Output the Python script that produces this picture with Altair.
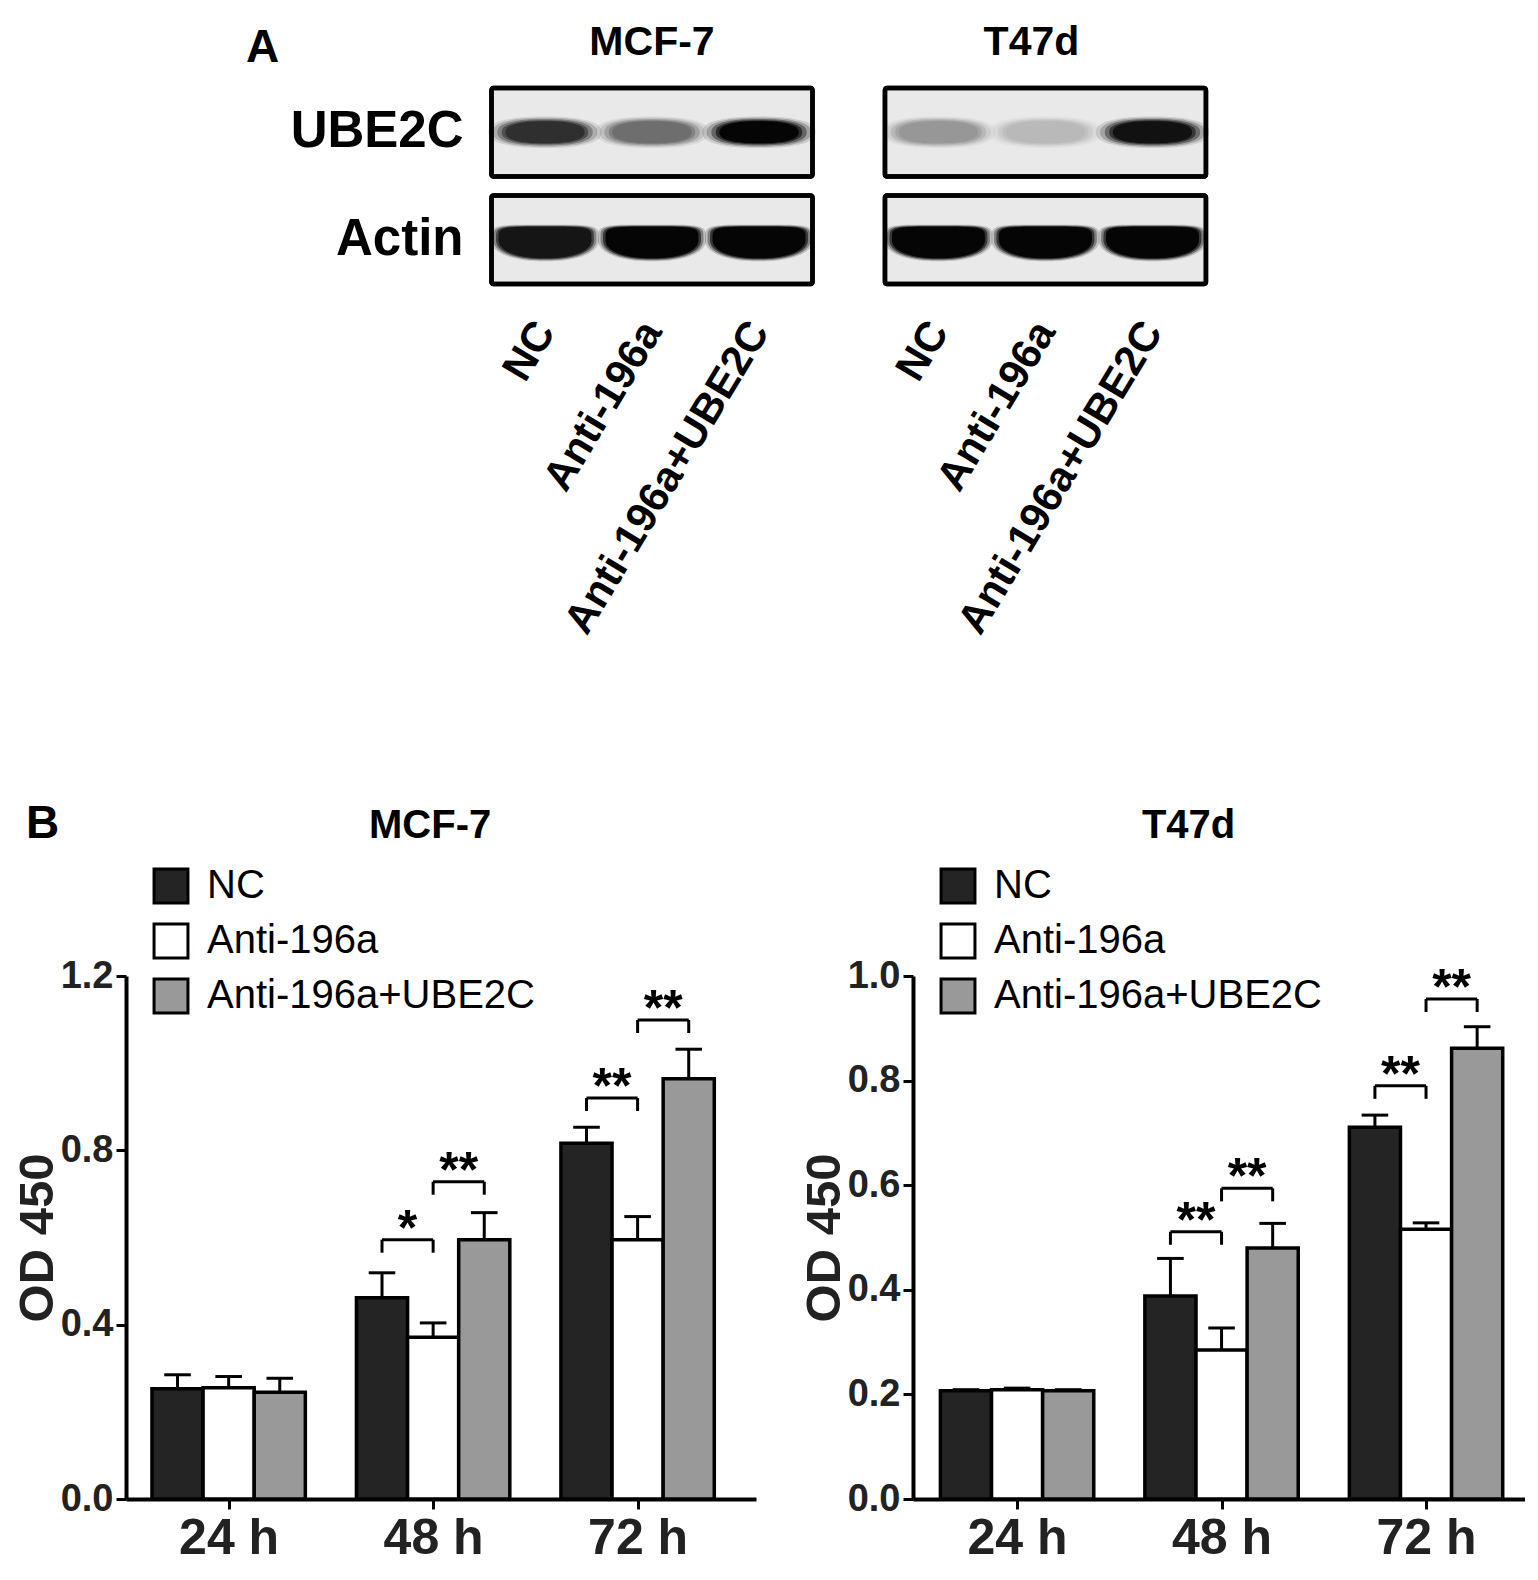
import numpy as np
import pandas as pd
import altair as alt

FONT = "Liberation Sans"

# ---------------- data ----------------
times = ["24 h", "48 h", "72 h"]
series = ["NC", "Anti-196a", "Anti-196a+UBE2C"]
series_colors = ["#242424", "#ffffff", "#999999"]

# Panel B, MCF-7 (mean, SEM)
mcf_nc = [0.253, 0.462, 0.816]
mcf_nc_err = [0.032, 0.057, 0.037]
mcf_anti = [0.255, 0.371, 0.595]
mcf_anti_err = [0.026, 0.033, 0.053]
mcf_ube = [0.245, 0.595, 0.964]
mcf_ube_err = [0.032, 0.062, 0.068]

# Panel B, T47d (mean, SEM)
t47_nc = [0.207, 0.388, 0.711]
t47_nc_err = [0.002, 0.072, 0.023]
t47_anti = [0.209, 0.285, 0.516]
t47_anti_err = [0.003, 0.042, 0.012]
t47_ube = [0.207, 0.480, 0.862]
t47_ube_err = [0.002, 0.047, 0.041]

# significance brackets: (time index, series a, series b, level, label)
mcf_sig = [(1, 0, 1, 0.595, "*"), (1, 1, 2, 0.728, "**"),
           (2, 0, 1, 0.920, "**"), (2, 1, 2, 1.099, "**")]
t47_sig = [(1, 0, 1, 0.511, "**"), (1, 1, 2, 0.594, "**"),
           (2, 0, 1, 0.790, "**"), (2, 1, 2, 0.956, "**")]

mcf_yticks = [0.0, 0.4, 0.8, 1.2]
t47_yticks = [0.0, 0.2, 0.4, 0.6, 0.8, 1.0]

# Panel A, western blot band intensities (0..1)
lanes = ["NC", "Anti-196a", "Anti-196a+UBE2C"]
proteins = ["UBE2C", "Actin"]
mcf_ube2c_band = [0.80, 0.50, 1.0]
mcf_actin_band = [0.94, 1.0, 1.0]
t47_ube2c_band = [0.32, 0.18, 0.96]
t47_actin_band = [1.0, 1.0, 1.0]

# ---------------- layout constants ----------------
LEFT_W, RIGHT_W = 630, 612
BLOT_H, BAR_H = 196, 523
GAP, HALF, CAP = 0.25, 0.125, 0.065


def blob_path(rx, ry_top, ry_bot, n_top, n_bot, k=72):
    pts = []
    for i in range(k):
        t = 2 * np.pi * i / k
        c, s = np.cos(t), np.sin(t)
        n = n_bot if s > 0 else n_top
        ry = ry_bot if s > 0 else ry_top
        x = rx * np.sign(c) * abs(c) ** (2.0 / n)
        y = ry * np.sign(s) * abs(s) ** (2.0 / n)
        pts.append(f"{x:.3f},{y:.3f}")
    return "M" + " L".join(pts) + " Z"


BAND_SHAPES = {"UBE2C": blob_path(0.9, 0.25, 0.25, 2.4, 2.4),
               "Actin": blob_path(1.0, 0.28, 0.40, 5.0, 2.2)}
# soft edge: (scale factor, opacity) of stacked copies, outermost first
BAND_HALO = {"UBE2C": [(1.26, 0.12), (1.16, 0.22), (1.06, 0.38), (0.96, 0.6), (0.88, 1.0)],
             "Actin": [(1.08, 0.18), (1.03, 0.35), (0.98, 0.6), (0.93, 1.0)]}


def tick_label_expr():
    expr = "''"
    for i in reversed(range(len(times))):
        expr = f"datum.value == {i} ? '{times[i]}' : ({expr})"
    return expr


def bar_frame(means, errs):
    rows = []
    for ti, t in enumerate(times):
        for si, s in enumerate(series):
            c = ti + (si - 1) * GAP
            v = means[si][ti]
            rows.append(dict(time=t, series=s, xc=c, x0=c - HALF, x1=c + HALF,
                             cap0=c - CAP, cap1=c + CAP, value=v,
                             top=v + errs[si][ti], zero=0.0))
    return pd.DataFrame(rows)


def sig_frames(sig, drop):
    h, legs, stars = [], [], []
    for ti, a, b, level, label in sig:
        xl = ti + (a - 1) * GAP
        xr = ti + (b - 1) * GAP
        h.append(dict(xl=xl, xr=xr, y=level))
        legs.append(dict(x=xl, y=level, y2=level - drop))
        legs.append(dict(x=xr, y=level, y2=level - drop))
        stars.append(dict(x=(xl + xr) / 2, y=level, label=label))
    return pd.DataFrame(h), pd.DataFrame(legs), pd.DataFrame(stars)


def bar_panel(title, title_dx, means, errs, sig, ymax, yticks, xdom, width, letter=None):
    df = bar_frame(means, errs)
    hb, legs, stars = sig_frames(sig, drop=13.0 / BAR_H * ymax)
    xs = alt.Scale(domain=xdom, nice=False, zero=False)
    ys = alt.Scale(domain=[0, ymax], nice=False, zero=True)
    xaxis = alt.Axis(values=list(range(len(times))), labelExpr=tick_label_expr(),
                     title=None, grid=False, domainWidth=4, domainColor="black",
                     tickWidth=3, tickSize=10, tickColor="black",
                     labelFontSize=50, labelFont=FONT, labelFontWeight="bold",
                     labelColor="#222222", labelPadding=4, labelOverlap=False,
                     labelFlush=False)
    yaxis = alt.Axis(values=yticks, format=".1f", title="OD 450",
                     titleFontSize=49, titleFont=FONT, titleFontWeight="bold",
                     titleColor="#222222", titlePadding=-2, grid=False,
                     domainWidth=4, domainColor="black", tickWidth=3, tickSize=10,
                     tickColor="black", labelFontSize=38, labelFont=FONT,
                     labelFontWeight="bold", labelColor="#222222", labelPadding=3,
                     labelOverlap=False)
    legend = alt.Legend(title=None, orient="none", legendX=25, legendY=-110,
                        symbolType="square", symbolSize=1150,
                        symbolStrokeColor="black", symbolStrokeWidth=3,
                        symbolOpacity=1, labelFontSize=40, labelFont=FONT,
                        labelFontWeight="normal", labelColor="black",
                        labelOffset=16, rowPadding=9, padding=0, labelLimit=600)

    def X(f):
        return alt.X(f, scale=xs, axis=xaxis)

    def Y(f):
        return alt.Y(f, scale=ys, axis=yaxis)

    bars = alt.Chart(df).mark_rect(stroke="black", strokeWidth=3.5).encode(
        x=X("x0:Q"), x2="x1:Q", y=Y("value:Q"), y2="zero:Q",
        color=alt.Color("series:N", scale=alt.Scale(domain=series, range=series_colors),
                        legend=legend))
    err = alt.Chart(df).mark_rule(color="black", strokeWidth=3).encode(
        x=X("xc:Q"), y=Y("value:Q"), y2="top:Q")
    caps = alt.Chart(df).mark_rule(color="black", strokeWidth=3).encode(
        x=X("cap0:Q"), x2="cap1:Q", y=Y("top:Q"))
    hline = alt.Chart(hb).mark_rule(color="black", strokeWidth=3).encode(
        x=X("xl:Q"), x2="xr:Q", y=Y("y:Q"))
    legl = alt.Chart(legs).mark_rule(color="black", strokeWidth=3).encode(
        x=X("x:Q"), y=Y("y:Q"), y2="y2:Q")
    startext = alt.Chart(stars).mark_text(fontSize=50, font=FONT, fontWeight="bold",
                                          baseline="alphabetic", dy=5, color="black").encode(
        x=X("x:Q"), y=Y("y:Q"), text="label:N")
    title_df = pd.DataFrame({"t": [title], "x": [(len(times) - 1) / 2]})
    ttl = alt.Chart(title_df).mark_text(fontSize=40, font=FONT, fontWeight="bold",
                                        baseline="alphabetic", dx=title_dx,
                                        color="black").encode(
        x=X("x:Q"), y=alt.value(-138), text="t:N")
    layers = [bars, err, caps, hline, legl, startext, ttl]
    if letter:
        layers.append(alt.Chart(pd.DataFrame({"t": [letter]})).mark_text(
            fontSize=46, font=FONT, fontWeight="bold", align="left",
            baseline="alphabetic", color="black").encode(
            text="t:N", x=alt.value(-100), y=alt.value(-138)))
    return alt.layer(*layers).properties(width=width, height=BAR_H)


def blot_panel(band_ube, band_act, xdom, width, title, title_dx, row_labels, letter=None):
    rows = []
    for li, lane in enumerate(lanes):
        rows.append(dict(lane=lane, idx=li, protein="UBE2C", level=band_ube[li]))
        rows.append(dict(lane=lane, idx=li, protein="Actin", level=band_act[li]))
    bands = pd.DataFrame(rows)
    boxes = pd.DataFrame({"protein": proteins, "x0": -0.5, "x1": len(lanes) - 0.5})
    lane_df = pd.DataFrame({"lane": lanes, "idx": list(range(len(lanes)))})
    xs = alt.Scale(domain=xdom, nice=False, zero=False)
    ys = alt.Scale(domain=proteins, paddingInner=0.177, paddingOuter=0)
    band_color = alt.Scale(domain=[0, 1], range=["#e6e6e6", "#050505"])

    box = alt.Chart(boxes).mark_rect(fill="#e9e9e9", stroke="black", strokeWidth=4.5,
                                     cornerRadius=2).encode(
        x=alt.X("x0:Q", scale=xs, axis=None), x2="x1:Q",
        y=alt.Y("protein:N", scale=ys, axis=None))
    layers = [box]
    for prot in proteins:
        sub = bands[bands["protein"] == prot]
        for f, op in BAND_HALO[prot]:
            layers.append(alt.Chart(sub).mark_point(
                filled=True, strokeWidth=0, opacity=op,
                shape=BAND_SHAPES[prot], size=(100 * f) ** 2).encode(
                x=alt.X("idx:Q", scale=xs, axis=None),
                y=alt.Y("protein:N", scale=ys, axis=None),
                color=alt.Color("level:Q", scale=band_color, legend=None)))
    # redraw box outline on top so the band edges stay inside the frame
    layers.append(alt.Chart(boxes).mark_rect(fillOpacity=0, stroke="black", strokeWidth=4.5,
                                             cornerRadius=2).encode(
        x=alt.X("x0:Q", scale=xs, axis=None), x2="x1:Q",
        y=alt.Y("protein:N", scale=ys, axis=None)))
    if row_labels:
        layers.append(alt.Chart(boxes).mark_text(
            align="right", baseline="middle", dx=-28, fontSize=51, font=FONT,
            fontWeight="bold", color="black").encode(
            x=alt.X("x0:Q", scale=xs, axis=None),
            y=alt.Y("protein:N", scale=ys, axis=None), text="protein:N"))
    layers.append(alt.Chart(lane_df).mark_text(
        angle=301, align="right", baseline="middle", fontSize=42, font=FONT,
        fontWeight="bold", color="black").encode(
        x=alt.X("idx:Q", scale=xs, axis=None), y=alt.value(BLOT_H + 41), text="lane:N"))
    title_df = pd.DataFrame({"t": [title], "idx": [(len(lanes) - 1) / 2]})
    layers.append(alt.Chart(title_df).mark_text(
        fontSize=41, font=FONT, fontWeight="bold", baseline="alphabetic",
        dx=title_dx, color="black").encode(
        x=alt.X("idx:Q", scale=xs, axis=None), y=alt.value(-33), text="t:N"))
    if letter:
        layers.append(alt.Chart(pd.DataFrame({"t": [letter]})).mark_text(
            fontSize=46, font=FONT, fontWeight="bold", align="left",
            baseline="alphabetic", color="black").encode(
            text="t:N", x=alt.value(120), y=alt.value(-26)))
    return alt.layer(*layers).properties(width=width, height=BLOT_H)


blot_left = blot_panel(mcf_ube2c_band, mcf_actin_band, [-3.916, 1.972], LEFT_W,
                       "MCF-7", 0, True, letter="A")
blot_right = blot_panel(t47_ube2c_band, t47_actin_band, [-0.238, 5.482], RIGHT_W,
                        "T47d", -14, False)
bar_left = bar_panel("MCF-7", -3,
                     [mcf_nc, mcf_anti, mcf_ube], [mcf_nc_err, mcf_anti_err, mcf_ube_err],
                     mcf_sig, 1.2, mcf_yticks, [-0.502, 2.579], LEFT_W, letter="B")
bar_right = bar_panel("T47d", -33,
                      [t47_nc, t47_anti, t47_ube], [t47_nc_err, t47_anti_err, t47_ube_err],
                      t47_sig, 1.0, t47_yticks, [-0.509, 2.484], RIGHT_W)

chart = alt.concat(blot_left, blot_right, bar_left, bar_right, columns=2).properties(
    spacing={"row": 692, "column": 157}, bounds="flush",
    padding={"left": 5, "top": 14, "right": 0, "bottom": 0},
).resolve_scale(color="independent").configure(
    font=FONT, background="white").configure_view(stroke=None)

chart.save("out.html", embed_options={"renderer": "svg", "actions": False})
